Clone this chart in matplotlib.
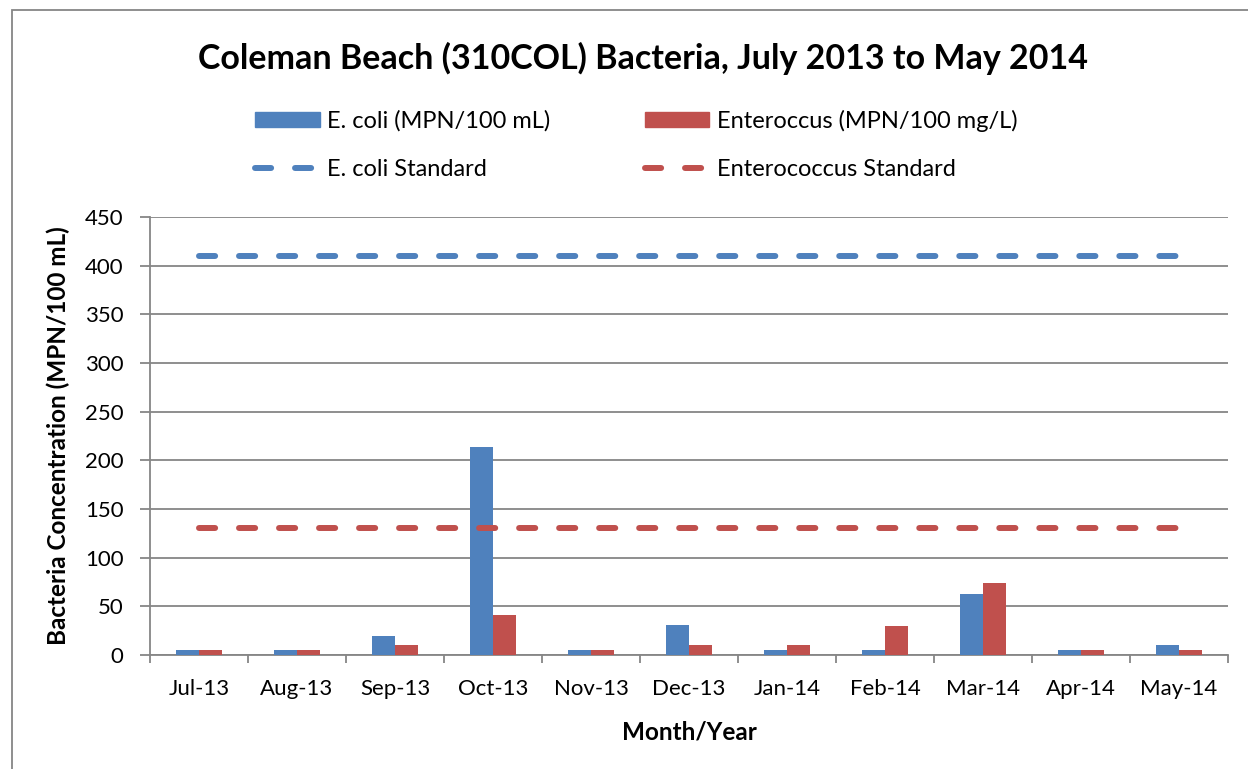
import matplotlib
matplotlib.use("Agg")
import matplotlib.pyplot as plt
import numpy as np
from matplotlib.patches import Patch, Rectangle
from matplotlib.lines import Line2D

plt.rcParams['font.family'] = ['Lato', 'DejaVu Sans']

months = ["Jul-13", "Aug-13", "Sep-13", "Oct-13", "Nov-13", "Dec-13",
          "Jan-14", "Feb-14", "Mar-14", "Apr-14", "May-14"]
ecoli = [5, 5, 20, 214, 5, 31, 5, 5, 63, 5, 10]
entero = [5, 5, 10, 41, 5, 10, 10, 30, 74, 5, 5]
ecoli_std = [410] * len(months)
entero_std = [130] * len(months)

blue = "#4f81bd"
red = "#c0504d"
grid_c = "#868686"

fig = plt.figure(figsize=(12.48, 7.69), dpi=100)
ax = fig.add_axes([150/1248, 1-655/769, (1228-150)/1248, (655-217)/769])

x = np.arange(len(months))
w = 0.23
ax.bar(x - w/2, ecoli, w, color=blue, zorder=3)
ax.bar(x + w/2, entero, w, color=red, zorder=3)
ls = (0, (2.7, 4.0))
ax.plot(x, ecoli_std, color=blue, lw=4.3, linestyle=ls, dash_capstyle='round', zorder=4)
ax.plot(x, entero_std, color=red, lw=4.3, linestyle=ls, dash_capstyle='round', zorder=4)

ax.set_xlim(-0.5, len(months) - 0.5)
ax.set_ylim(0, 450)
ax.set_yticks(np.arange(0, 451, 50))
ax.set_xticks(x)
ax.set_xticklabels(months)
ax.set_xticks(np.arange(-0.5, len(months), 1), minor=True)
ax.tick_params(axis='x', which='major', length=0, pad=17, labelsize=16)
ax.tick_params(axis='x', which='minor', length=6, width=1.3, color=grid_c, direction='out')
ax.tick_params(axis='y', length=7, width=1.3, color=grid_c, direction='out', pad=12, labelsize=16)
ax.grid(axis='y', color=grid_c, lw=1.3, zorder=0)
ax.set_axisbelow(True)
for s in ['top', 'right']:
    ax.spines[s].set_visible(False)
for s in ['left', 'bottom']:
    ax.spines[s].set_color(grid_c)
    ax.spines[s].set_linewidth(1.3)

ax.set_xlabel("Month/Year", fontsize=17.5, fontweight='bold', labelpad=16)
ax.set_ylabel("Bacteria Concentration (MPN/100 mL)", fontsize=17.5, fontweight='bold', labelpad=11)

fig.text(643/1248, 1-58/769, "Coleman Beach (310COL) Bacteria, July 2013 to May 2014",
         ha='center', va='center', fontsize=24.5, fontweight='bold')

handles = [Patch(color=blue), Line2D([], [], color=blue, lw=4.3, linestyle=ls, dash_capstyle='round'),
           Patch(color=red), Line2D([], [], color=red, lw=4.3, linestyle=ls, dash_capstyle='round')]
labels = ["E. coli (MPN/100 mL)", "E. coli Standard",
          "Enteroccus (MPN/100 mg/L)", "Enterococcus Standard"]
fig.legend(handles, labels, ncol=2, loc='center left', bbox_to_anchor=(243/1248, 1-145/769),
           frameon=False, fontsize=17, handlelength=2.75, handleheight=0.6,
           labelspacing=1.15, columnspacing=4.0, handletextpad=0.3, borderpad=0)

fig.patches.append(Rectangle((12/1248, -0.05), 1.2, 1 - 10/769 + 0.05, transform=fig.transFigure,
                             fill=False, edgecolor=grid_c, lw=1.3))

fig.savefig("out.png", dpi=100)
